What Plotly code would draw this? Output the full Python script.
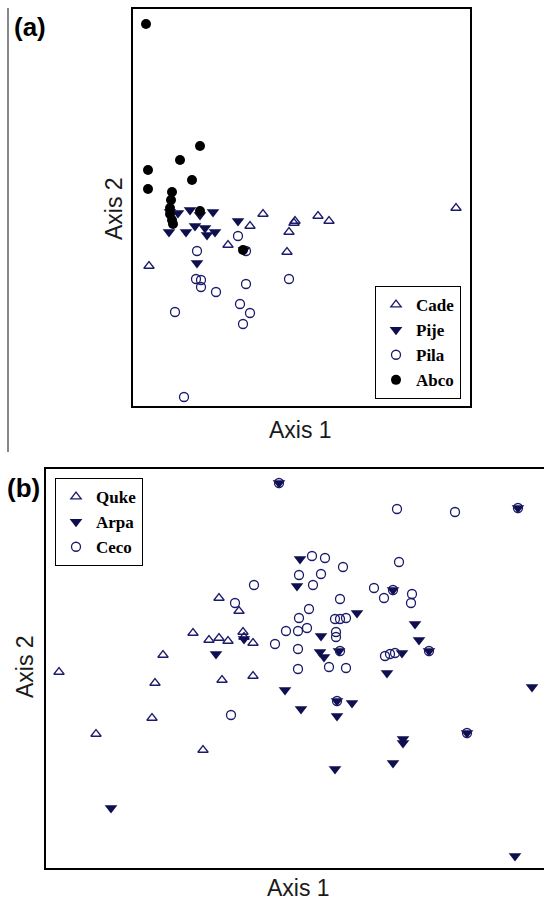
import plotly.graph_objects as go

W, H = 544, 903

# ---------------- Panel (a) data (ordination scores, arbitrary units) ----------------
cade_x = [16, 95, 117, 130, 162, 161, 156, 154, 185, 196, 323]
cade_y = [140, 161, 180, 192, 185, 183, 174, 154, 190, 185, 198]

pije_x = [37, 45, 57, 67, 80, 36, 53, 62, 72, 74, 82, 105, 64, 111]
pije_y = [194, 193, 196, 191, 194, 174, 174, 180, 178, 171, 174, 185, 143, 156]

pila_x = [105, 64, 63, 68, 68, 83, 113, 156, 42, 107, 117, 110, 51, 113]
pila_y = [170, 155, 127, 126, 119, 114, 122, 127, 94, 102, 93, 82, 9, 155]

abco_x = [13, 67, 47, 15, 59, 15, 39, 38, 37, 67, 37, 39, 40, 110]
abco_y = [382, 260, 246, 236, 226, 217, 214, 206, 198, 195, 192, 186, 182, 156]

# ---------------- Panel (b) data ----------------
quke_x = [13, 50, 106, 109, 117, 147, 157, 163, 173, 173, 182, 193, 197, 198, 207, 176, 207]
quke_y = [196, 134, 150, 185, 213, 235, 118, 228, 230, 270, 227, 257, 236, 231, 225, 188, 192]

arpa_x = [233, 472, 254, 251, 347, 311, 369, 373, 275, 170, 274, 278, 293, 356, 383,
          341, 239, 486, 255, 291, 306, 291, 421, 357, 357, 347, 289, 65, 469, 198]
arpa_y = [385, 360, 309, 282, 278, 255, 244, 228, 232, 214, 216, 211, 217, 215, 217,
          195, 178, 181, 159, 167, 165, 152, 135, 129, 125, 105, 99, 60, 12, 229]

ceco_x = [233, 351, 409, 472, 266, 279, 297, 253, 275, 267, 208, 189, 353, 328, 347,
          338, 366, 365, 294, 263, 253, 289, 294, 300, 240, 252, 261, 290, 290, 229,
          252, 294, 339, 344, 349, 383, 252, 283, 300, 185, 291, 421]
ceco_y = [385, 359, 356, 360, 312, 310, 301, 293, 294, 283, 283, 265, 306, 280, 278,
          270, 274, 265, 269, 259, 250, 249, 249, 250, 237, 237, 240, 236, 231, 224,
          219, 217, 212, 214, 215, 217, 199, 201, 200, 153, 167, 135]

NAVY = "#1b1b6b"
DARK = "#0f0f50"

fig = go.Figure()

def add(x, y, name, symbol, size, color, xa, ya, legend, lw=1.3):
    fig.add_trace(go.Scatter(
        x=x, y=y, mode="markers", name=name, xaxis=xa, yaxis=ya, legend=legend,
        marker=dict(symbol=symbol, size=size, color=color,
                    line=dict(color=color, width=lw)),
    ))

add(cade_x, cade_y, "Cade", "triangle-up-open", 9, NAVY, "x", "y", "legend")
add(pije_x, pije_y, "Pije", "triangle-down", 11, DARK, "x", "y", "legend", 0)
add(pila_x, pila_y, "Pila", "circle-open", 9, NAVY, "x", "y", "legend")
add(abco_x, abco_y, "Abco", "circle", 10, "#000000", "x", "y", "legend", 0)

add(quke_x, quke_y, "Quke", "triangle-up-open", 9, NAVY, "x2", "y2", "legend2")
add(arpa_x, arpa_y, "Arpa", "triangle-down", 11, DARK, "x2", "y2", "legend2", 0)
add(ceco_x, ceco_y, "Ceco", "circle-open", 9, NAVY, "x2", "y2", "legend2")

def px(v):
    return v / W

def py(v):
    return 1 - v / H

axis_common = dict(showgrid=False, zeroline=False, showticklabels=False, ticks="",
                   showline=True, linecolor="black", linewidth=2)

legend_font = dict(family="Liberation Serif", size=17, color="black", weight="bold")

fig.update_layout(
    width=W, height=H,
    margin=dict(l=0, r=0, t=0, b=0),
    paper_bgcolor="white", plot_bgcolor="white",
    xaxis=dict(domain=[px(133), px(470)], range=[0, 337], anchor="y", mirror=True, **axis_common),
    yaxis=dict(domain=[py(406), py(9)], range=[0, 397], anchor="x", mirror=True, **axis_common),
    xaxis2=dict(domain=[px(46), 1.0], range=[0, 498], anchor="y2", mirror=True, **axis_common),
    yaxis2=dict(domain=[py(868), py(469)], range=[0, 399], anchor="x2", mirror=False, **axis_common),
    legend=dict(x=px(461), y=py(399), xanchor="right", yanchor="bottom",
                bordercolor="black", borderwidth=1, bgcolor="white",
                font=legend_font, itemwidth=30, tracegroupgap=0),
    legend2=dict(x=px(55), y=py(478), xanchor="left", yanchor="top",
                 bordercolor="black", borderwidth=1, bgcolor="white",
                 font=legend_font, itemwidth=30, tracegroupgap=0),
    showlegend=True,
)

ann_font = dict(family="Liberation Sans", size=23, color="#1a1a1a")
lab_font = dict(family="Liberation Sans", size=26, color="black")

def ann(text, x, y, font, angle=0):
    return dict(text=text, x=px(x), y=py(y), xref="paper", yref="paper", showarrow=False,
                xanchor="center", yanchor="middle", font=font, textangle=angle)

annotations = [
    ann("Axis 1", 300, 430, ann_font),
    ann("Axis 2", 114, 209, ann_font, -90),
    ann("Axis 1", 298, 888, ann_font),
    ann("Axis 2", 25, 667, ann_font, -90),
    ann("<b>(a)</b>", 30, 27, lab_font),
    ann("<b>(b)</b>", 23, 488, lab_font),
]
fig.update_layout(annotations=annotations)

fig.add_shape(type="line", xref="paper", yref="paper", x0=px(8), x1=px(8), y0=py(8), y1=py(452),
              line=dict(color="#888888", width=2))

fig.write_html("out.html")
